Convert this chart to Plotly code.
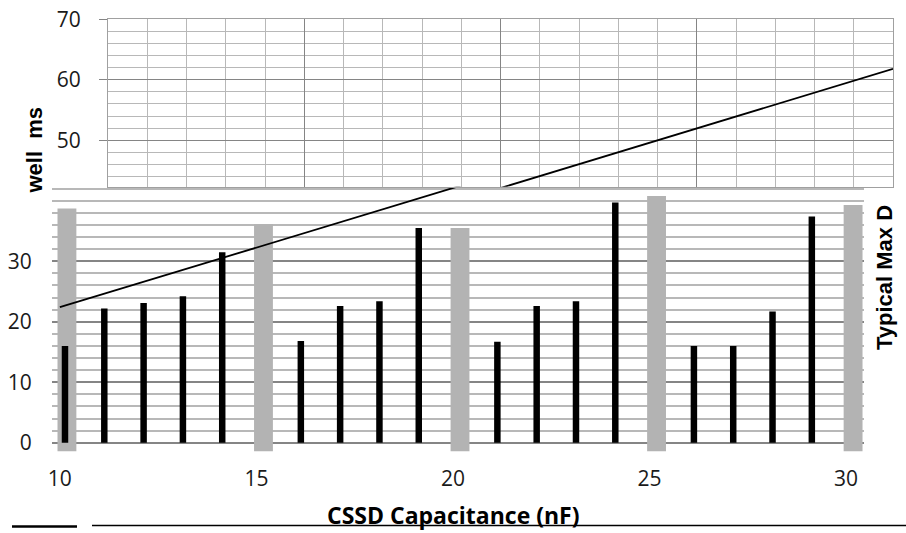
import plotly.graph_objects as go

# ---- data ----
black_cap = [10, 11, 12, 13, 14, 16, 17, 18, 19, 21, 22, 23, 24, 26, 27, 28, 29]
black_val = [16, 22.2, 23.1, 24.2, 31.5, 16.8, 22.6, 23.4, 35.5, 16.7, 22.6, 23.4, 39.7, 16, 16, 21.7, 37.4]
gray_cap = [10, 15, 20, 25, 30]
gray_val = [38.7, 36.1, 35.5, 40.8, 39.3]
line_cap = [10, 30]
line_val = [22.4, 61.8]
x_ticks = [10, 15, 20, 25, 30]
y_ticks_low = [0, 10, 20, 30]
y_ticks_up = [50, 60, 70]

W, H = 906, 533
def px(x): return x / W
def py(y): return 1 - y / H

gray_base = -1.45
split = 42.3

fig = go.Figure()
fig.add_trace(go.Bar(x=gray_cap, y=[v - gray_base for v in gray_val], base=gray_base,
                     width=0.48, offset=-0.06, marker=dict(color="#b3b3b3", line=dict(width=0)),
                     xaxis="x", yaxis="y", showlegend=False))
fig.add_trace(go.Bar(x=black_cap, y=black_val, width=0.165, offset=0.048,
                     marker=dict(color="#000000", line=dict(width=0)),
                     xaxis="x", yaxis="y", showlegend=False))
fig.add_trace(go.Scatter(x=line_cap, y=line_val, mode="lines", line=dict(color="black", width=1.8),
                         xaxis="x", yaxis="y", showlegend=False))
fig.add_trace(go.Scatter(x=line_cap, y=line_val, mode="lines", line=dict(color="black", width=1.8),
                         xaxis="x2", yaxis="y2", showlegend=False))

tickfont = dict(family="Open Sans", size=21, color="#1a1a1a")
minor_c, major_c = "#b8b8b8", "#858585"

fig.update_layout(
    width=W, height=H, margin=dict(l=0, r=0, t=0, b=0, pad=0),
    paper_bgcolor="white", plot_bgcolor="white", barmode="overlay",
    xaxis=dict(domain=[px(52), px(863.7)], range=[9.8, 30.45], anchor="y", automargin=False,
               showgrid=False, zeroline=False, showline=False,
               tickvals=x_ticks, ticks="", tickfont=tickfont, ticklabelstandoff=12),
    yaxis=dict(domain=[py(451.5), py(186.8)], range=[gray_base, split], anchor="x", automargin=False,
               tickvals=y_ticks_low, showgrid=True, gridcolor=major_c, gridwidth=1.5,
               zeroline=False, showline=False, ticks="outside", ticklen=15,
               tickcolor="rgba(0,0,0,0)", tickfont=tickfont,
               minor=dict(dtick=2, tick0=0, showgrid=True, gridcolor=minor_c, gridwidth=1.5)),
    xaxis2=dict(domain=[px(108), px(893)], range=[10, 30], anchor="y2", automargin=False,
                dtick=5, tick0=0, showgrid=True, gridcolor=major_c, gridwidth=1,
                showticklabels=False, ticks="", zeroline=False,
                showline=True, mirror=True, linecolor="#a0a0a0", linewidth=1,
                minor=dict(dtick=1, showgrid=True, gridcolor=minor_c, gridwidth=1)),
    yaxis2=dict(domain=[py(186.8), py(19.3)], range=[split, 70], anchor="x2", automargin=False,
                tickvals=y_ticks_up, showgrid=True, gridcolor=major_c, gridwidth=1,
                zeroline=False, showline=True, mirror=True, linecolor="#a0a0a0",
                ticks="outside", ticklen=8, tickcolor=major_c, tickfont=tickfont, ticklabelstandoff=14,
                minor=dict(dtick=2, tick0=0, showgrid=True, gridcolor=minor_c, gridwidth=1)),
)

title_font = dict(family="Liberation Sans", size=22, color="black")
fig.add_annotation(text="<b>well\u00a0\u00a0ms</b>", xref="paper", yref="paper",
                   x=px(34.5), y=py(150), textangle=-90, showarrow=False, font=title_font,
                   xanchor="center", yanchor="middle")
fig.add_annotation(text="<b>Typical Max D</b>", xref="paper", yref="paper",
                   x=px(884), y=py(278), textangle=-90, showarrow=False, font=title_font,
                   xanchor="center", yanchor="middle")
fig.add_annotation(text="<b>CSSD Capacitance (nF)</b>", xref="paper", yref="paper",
                   x=px(453), y=py(515), showarrow=False,
                   font=dict(family="Open Sans", size=23, color="black"),
                   xanchor="center", yanchor="middle")
fig.add_shape(type="line", xref="paper", yref="paper", x0=px(12), x1=px(77), y0=py(526.5), y1=py(526.5),
              line=dict(color="black", width=2.5))
fig.add_shape(type="line", xref="paper", yref="paper", x0=px(92), x1=px(906), y0=py(525.5), y1=py(525.5),
              line=dict(color="black", width=1.5))

fig.write_html("out.html", config={"displayModeBar": False},
               post_script="document.body.style.margin='0';document.body.style.padding='0';"
                           "document.documentElement.style.overflow='hidden';"
                           "document.body.style.overflow='hidden';")
